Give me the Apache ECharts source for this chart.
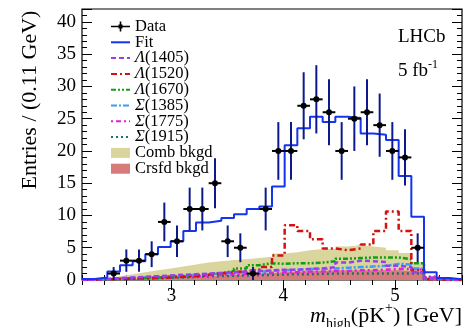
<!DOCTYPE html>
<html><head><meta charset="utf-8">
<script src="https://cdn.jsdelivr.net/npm/echarts@6/dist/echarts.min.js"></script>
<style>html,body{margin:0;padding:0;background:#fff}#c{width:465px;height:327px}</style>
</head><body><div id="c"></div>
<script>
// ---- axis / binning ----
const xMin = 2.2, xMax = 5.6, nBins = 30;
const yMin = 0, yMax = 42;
const xMajorTicks = [3, 4, 5];
const xMinorStep = 0.2;
const yMajorStep = 5, yMinorStep = 1;

// ---- data (events per bin, null = no point) ----
const dataCounts = [null, null, 1, 3, 3, 4, 9, 6, 11, 11, 15, 6, 5, 1, 11, 20, 20, 27, 28, 26, 20, 25, 26, 24, 20, 19, 5, null, null, null];

// ---- fit and components (per bin) ----
const fitValues   = [0.15, 0.4, 1.3, 2.3, 2.9, 4.0, 5.1, 6.0, 7.6, 8.9, 9.2, 9.6, 10.2, 11.0, 11.4, 14.5, 20.9, 23.5, 25.3, 24.5, 25.3, 25.1, 22.7, 22.5, 21.7, 16.1, 9.8, 1.2, 0.3, 0.1];
const lambda1405  = [0.05, 0.15, 0.3, 0.4, 0.5, 0.6, 0.7, 0.8, 0.9, 1.0, 1.1, 1.2, 1.3, 1.4, 1.5, 1.6, 1.6, 1.7, 1.8, 2.0, 2.7, 3.0, 2.9, 2.8, 2.2, 2.0, 1.2, 0.2, 0.05, 0.0];
const lambda1520  = [0.05, 0.1, 0.15, 0.2, 0.25, 0.3, 0.4, 0.5, 0.6, 0.8, 1.0, 1.2, 1.4, 1.6, 2.0, 3.8, 8.5, 7.6, 6.3, 4.9, 4.6, 4.9, 5.5, 7.6, 10.6, 7.6, 1.5, 0.1, 0.0, 0.0];
const lambda1670  = [0.05, 0.1, 0.15, 0.2, 0.3, 0.4, 0.5, 0.6, 0.7, 0.9, 1.1, 1.4, 1.8, 2.3, 2.6, 2.5, 2.6, 2.6, 2.7, 2.9, 3.3, 3.4, 3.5, 3.5, 3.5, 3.2, 2.6, 0.2, 0.0, 0.0];
const sigma1385   = [0.05, 0.1, 0.2, 0.3, 0.4, 0.5, 0.6, 0.7, 0.8, 0.9, 1.0, 1.1, 1.2, 1.3, 1.4, 1.5, 1.6, 1.7, 1.7, 1.8, 1.9, 2.0, 2.1, 2.2, 2.5, 2.4, 1.8, 0.2, 0.05, 0.0];
const sigma1775   = [0.05, 0.1, 0.2, 0.3, 0.35, 0.4, 0.5, 0.55, 0.6, 0.7, 0.8, 0.9, 0.95, 1.0, 1.1, 1.2, 1.2, 1.3, 1.3, 1.4, 1.4, 1.5, 1.5, 1.6, 1.7, 1.7, 1.6, 0.4, 0.15, 0.1];
const sigma1915   = [0.05, 0.1, 0.15, 0.2, 0.25, 0.3, 0.35, 0.4, 0.5, 0.55, 0.6, 0.65, 0.7, 0.75, 0.8, 0.85, 0.9, 0.9, 0.95, 1.0, 1.0, 1.0, 1.0, 1.0, 1.0, 1.0, 1.0, 0.5, 0.1, 0.05];
const combBkgd    = [0.1, 0.3, 0.6, 0.9, 1.2, 1.5, 1.8, 2.1, 2.4, 2.7, 2.9, 3.1, 3.2, 3.4, 3.6, 4.1, 4.3, 4.6, 4.8, 4.8, 5.2, 5.4, 5.2, 5.0, 4.6, 4.2, 2.8, 0.3, 0.1, 0.05];
const crsfdBkgd   = [0.05, 0.1, 0.15, 0.2, 0.25, 0.3, 0.35, 0.4, 0.5, 0.6, 0.7, 0.8, 0.9, 1.0, 1.1, 1.2, 1.3, 1.4, 1.4, 1.5, 1.5, 1.5, 1.5, 1.5, 1.5, 1.4, 1.2, 0.3, 0.1, 0.05];

// ---- helpers ----
const binW = (xMax - xMin) / nBins;
const edges = Array.from({length: nBins + 1}, (_, k) => xMin + k * binW);
function stepData(vals) {
  const d = vals.map((v, k) => [edges[k], v]);
  d.push([edges[nBins], vals[nBins - 1]]);
  return d;
}
const points = [];
dataCounts.forEach((v, k) => { if (v != null) points.push([edges[k] + binW / 2, v, Math.sqrt(v)]); });

const FONT = '"Liberation Serif", "Times New Roman", serif';
const isInt = v => Math.abs(v - Math.round(v)) < 1e-6;

const components = [
  {name: 'Σ(1915)', vals: sigma1915,  color: '#1f6f6f', dash: [2, 3]},
  {name: 'Σ(1775)', vals: sigma1775,  color: '#e020e0', dash: [2, 3, 5, 3]},
  {name: 'Σ(1385)', vals: sigma1385,  color: '#3d9df5', dash: [6, 2, 2, 2]},
  {name: 'Λ(1670)', vals: lambda1670, color: '#12a012', dash: [5, 2, 2, 2, 2, 2]},
  {name: 'Λ(1520)', vals: lambda1520, color: '#d41010', dash: [6, 3, 2, 3]},
  {name: 'Λ(1405)', vals: lambda1405, color: '#9a3cf0', dash: [5, 3]}
];

const series = [];
series.push({
  name: 'Comb bkgd', type: 'line', step: 'end', symbol: 'none', showSymbol: false, data: stepData(combBkgd),
  xAxisIndex: 0, yAxisIndex: 0, color: '#d9d59d', itemStyle: {color: '#d9d59d'},
  lineStyle: {width: 0}, areaStyle: {color: '#d9d59d', opacity: 1}, silent: true
});
series.push({
  name: 'Crsfd bkgd', type: 'line', step: 'end', symbol: 'none', showSymbol: false, data: stepData(crsfdBkgd),
  xAxisIndex: 0, yAxisIndex: 0, color: '#d67a7a', itemStyle: {color: '#d67a7a'},
  lineStyle: {width: 0}, areaStyle: {color: '#d67a7a', opacity: 1}, silent: true
});
components.forEach(c => series.push({
  name: c.name, type: 'line', step: 'end', symbol: 'none', showSymbol: false, data: stepData(c.vals),
  xAxisIndex: 0, yAxisIndex: 0, color: c.color, itemStyle: {color: c.color},
  lineStyle: {color: c.color, width: 2.5, type: c.dash}, silent: true
}));
series.push({
  name: 'Fit', type: 'line', step: 'end', symbol: 'none', showSymbol: false, data: stepData(fitValues),
  xAxisIndex: 0, yAxisIndex: 0, color: '#1434ee', itemStyle: {color: '#1434ee'},
  lineStyle: {color: '#1434ee', width: 2}, silent: true
});
series.push({
  name: 'Data', type: 'custom', data: points, xAxisIndex: 0, yAxisIndex: 0,
  encode: {x: 0, y: 1}, color: '#000', itemStyle: {color: '#000'}, silent: true, z: 5,
  renderItem: function (params, api) {
    const x = api.value(0), y = api.value(1), e = api.value(2);
    const c = api.coord([x, y]);
    const t = api.coord([x, y + e]);
    const b = api.coord([x, Math.max(0, y - e)]);
    const l = api.coord([x - binW / 2, y]);
    const r = api.coord([x + binW / 2, y]);
    return {type: 'group', children: [
      {type: 'line', shape: {x1: c[0], y1: t[1], x2: c[0], y2: b[1]}, style: {stroke: '#0c1a8c', lineWidth: 2}},
      {type: 'line', shape: {x1: l[0], y1: c[1], x2: r[0], y2: c[1]}, style: {stroke: '#000', lineWidth: 2}},
      {type: 'circle', shape: {cx: c[0], cy: c[1], r: 3}, style: {fill: '#000'}}
    ]};
  }
});

function xAx(pos, major, labels) {
  const a = {
    type: 'value', min: xMin, max: xMax, position: pos,
    axisLine: {show: false}, splitLine: {show: false},
    axisTick: {show: true, inside: true, length: major ? 10 : 5, lineStyle: {color: '#000', width: 1}},
    axisLabel: {show: false}
  };
  if (major) { a.axisTick.customValues = xMajorTicks; a.axisLabel.customValues = xMajorTicks; }
  else a.interval = xMinorStep;
  if (labels) a.axisLabel = {show: true, customValues: xMajorTicks, margin: 7, color: '#000', fontFamily: FONT, fontSize: 19,
                             formatter: v => isInt(v) ? String(Math.round(v)) : ''};
  return a;
}
function yAx(pos, major, labels) {
  return {
    type: 'value', min: yMin, max: yMax, position: pos, interval: major ? yMajorStep : yMinorStep,
    axisLine: {show: false}, splitLine: {show: false},
    axisTick: {show: true, inside: true, length: major ? 10 : 5, lineStyle: {color: '#000', width: 1}},
    axisLabel: labels ? {show: true, margin: 6, color: '#000', fontFamily: FONT, fontSize: 19,
                         formatter: v => (v % yMajorStep === 0 ? String(v) : '')} : {show: false}
  };
}

const legendNames = ['Data', 'Fit', 'Λ(1405)', 'Λ(1520)', 'Λ(1670)', 'Σ(1385)', 'Σ(1775)', 'Σ(1915)', 'Comb bkgd', 'Crsfd bkgd'];

const chart = echarts.init(document.getElementById('c'), null, {renderer: 'canvas'});
chart.setOption({
  animation: false,
  backgroundColor: '#fff',
  grid: {left: 82, right: 3, top: 9, bottom: 47, show: true, borderColor: '#000', borderWidth: 1.2, backgroundColor: 'transparent'},
  xAxis: [xAx('bottom', false, true), xAx('bottom', true, false), xAx('top', false, false), xAx('top', true, false)],
  yAxis: [yAx('left', false, true), yAx('left', true, false), yAx('right', false, false), yAx('right', true, false)],
  legend: {
    orient: 'vertical', left: 110, top: 18, padding: 0, itemGap: -1.2, itemWidth: 19, itemHeight: 10,
    selectedMode: false,
    textStyle: {fontFamily: FONT, fontSize: 16.5, color: '#000', lineHeight: 14,
      rich: {g: {fontFamily: FONT, fontSize: 16.5, fontStyle: 'italic', color: '#000', lineHeight: 14}}},
    formatter: name => name.replace(/^([ΛΣ])/, '{g|$1}'),
    data: legendNames.map(n => {
      if (n === 'Data') return {name: n, icon: 'path://M0,4.2H19V5.8H0Z M8.7,0H10.3V10H8.7Z M7.5,3H11.5V7H7.5Z'};
      if (n === 'Comb bkgd' || n === 'Crsfd bkgd') return {name: n, icon: 'rect'};
      return {name: n, itemStyle: {opacity: 0, borderWidth: 0}};
    })
  },
  graphic: [
    {type: 'text', x: 30, y: 100, rotation: Math.PI / 2,
     style: {text: 'Entries / (0.11 GeV)', font: '22px ' + FONT, fill: '#000', align: 'center', verticalAlign: 'middle'}},
    {type: 'text', x: 462, y: 316,
     style: {text: '{m|m}{s|high}(p\u0304K{u|+}) [GeV]', align: 'right', verticalAlign: 'middle',
       font: '22px ' + FONT, fill: '#000', lineHeight: 30,
       rich: {
         m: {font: 'italic 22px ' + FONT, fill: '#000', lineHeight: 30},
         s: {font: '14px ' + FONT, fill: '#000', verticalAlign: 'bottom', lineHeight: 16},
         u: {font: '14px ' + FONT, fill: '#000', verticalAlign: 'top', lineHeight: 18}
       }}},
    {type: 'text', x: 398, y: 37,
     style: {text: 'LHCb', font: '19px ' + FONT, fill: '#000', align: 'left', verticalAlign: 'middle'}},
    {type: 'text', x: 398, y: 71,
     style: {text: '5 fb{u|-1}', font: '19px ' + FONT, fill: '#000', align: 'left', verticalAlign: 'middle', lineHeight: 24,
       rich: {u: {font: '12px ' + FONT, fill: '#000', verticalAlign: 'top', lineHeight: 14}}}}
  ],
  series: series
});
</script></body></html>
